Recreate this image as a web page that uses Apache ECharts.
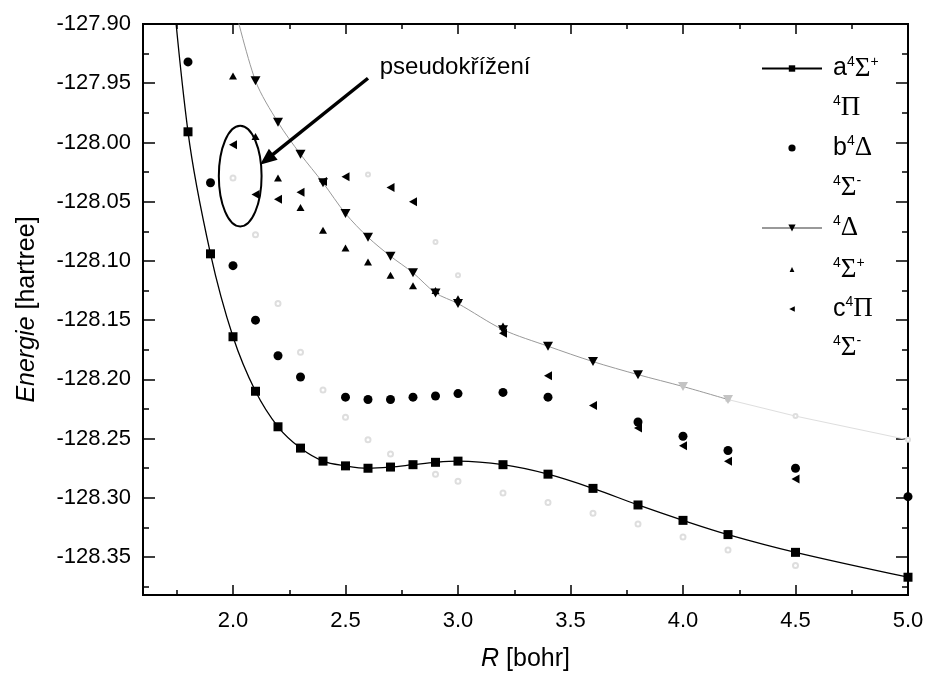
<!DOCTYPE html>
<html><head><meta charset="utf-8">
<script src="https://cdn.jsdelivr.net/npm/echarts@6/dist/echarts.min.js"></script>
<style>html,body{margin:0;padding:0;background:#fff}#c{width:927px;height:677px}</style>
</head><body><div id="c"></div>
<script>
// ---- data (R in bohr, E in hartree) ----
const R_A = [1.7, 1.8, 1.9, 2.0, 2.1, 2.2, 2.3, 2.4, 2.5, 2.6, 2.7, 2.8, 2.9, 3.0, 3.2, 3.4, 3.6, 3.8, 4.0, 4.2, 4.5, 5.0];
const E_A = [-127.80, -127.991, -128.094, -128.164, -128.210, -128.240, -128.258, -128.269, -128.273, -128.275, -128.274, -128.272, -128.270, -128.269, -128.272, -128.280, -128.292, -128.306, -128.319, -128.331, -128.346, -128.367];

const R_B = [1.8, 1.9, 2.0, 2.1, 2.2, 2.3, 2.5, 2.6, 2.7, 2.8, 2.9, 3.0, 3.2, 3.4, 3.8, 4.0, 4.2, 4.5, 5.0];
const E_B = [-127.932, -128.034, -128.104, -128.150, -128.180, -128.198, -128.215, -128.217, -128.217, -128.215, -128.214, -128.212, -128.211, -128.215, -128.236, -128.248, -128.260, -128.275, -128.299];

const R_D = [2.0, 2.1, 2.2, 2.3, 2.4, 2.5, 2.6, 2.7, 2.8, 2.9, 3.0, 3.2, 3.4, 3.6, 3.8, 4.0, 4.2];
const E_D = [-127.88, -127.948, -127.983, -128.010, -128.034, -128.060, -128.080, -128.096, -128.110, -128.127, -128.136, -128.158, -128.172, -128.185, -128.196, -128.206, -128.217];

const R_SP = [2.0, 2.1, 2.2, 2.3, 2.4, 2.5, 2.6, 2.7, 2.8, 2.9, 3.0, 3.2];
const E_SP = [-127.944, -127.995, -128.030, -128.055, -128.074, -128.089, -128.101, -128.112, -128.121, -128.125, -128.132, -128.155];

const R_C = [2.0, 2.1, 2.2, 2.3, 2.4, 2.5, 2.7, 2.8, 3.2, 3.4, 3.6, 3.8, 4.0, 4.2, 4.5];
const E_C = [-128.002, -128.044, -128.048, -128.042, -128.033, -128.029, -128.038, -128.050, -128.161, -128.197, -128.222, -128.241, -128.256, -128.269, -128.284];

const R_P = [2.0, 2.1, 2.2, 2.3, 2.4, 2.5, 2.6, 2.7, 2.8, 2.9, 3.0, 3.2, 3.4, 3.6, 3.8, 4.0, 4.2, 4.5];
const E_P = [-128.030, -128.078, -128.136, -128.177, -128.209, -128.232, -128.251, -128.263, -128.273, -128.280, -128.286, -128.296, -128.304, -128.313, -128.322, -128.333, -128.344, -128.357];

const R_SM1 = [2.6, 2.9, 3.0];
const E_SM1 = [-128.027, -128.084, -128.112];

const R_SM2 = [4.2, 4.5, 5.0];
const E_SM2 = [-128.217, -128.231, -128.251];

const X_MAJOR = [2.0, 2.5, 3.0, 3.5, 4.0, 4.5, 5.0];
const X_MINOR = [1.75, 2.25, 2.75, 3.25, 3.75, 4.25, 4.75];
const Y_MAJOR = [-127.90, -127.95, -128.00, -128.05, -128.10, -128.15, -128.20, -128.25, -128.30, -128.35];
const Y_MINOR = [-127.925, -127.975, -128.025, -128.075, -128.125, -128.175, -128.225, -128.275, -128.325, -128.375];

const LEGEND_LABELS = {
  aS: 'a{s|4}{g|Σ}{s|+}',
  P: '{s|4}{g|Π}',
  bD: 'b{s|4}{g|Δ}',
  Sm1: '{s|4}{g|Σ}{s|-}',
  D: '{s|4}{g|Δ}',
  Sp: '{s|4}{g|Σ}{s|+}',
  cP: 'c{s|4}{g|Π}',
  Sm2: '{s|4}{g|Σ}{s|-}'
};
const ANNOT_TEXT = 'pseudokřížení';

// ---- chart ----
const F = '"Liberation Sans", Arial, sans-serif';
const FS = '"Liberation Serif", "Times New Roman", serif';
const BLACK = '#000', FAINT = '#dedede';
const D_FAINT_FROM = 4.0;

function pts(R, E) { return R.map((r, i) => [r, E[i]]); }

function xAxis(pos, vals, len, labels) {
  return {
    type: 'value', min: 1.6, max: 5.0, position: pos,
    axisLine: { show: true, onZero: false, lineStyle: { color: BLACK, width: 2 } },
    axisTick: { show: true, inside: true, length: len, customValues: vals, lineStyle: { color: BLACK, width: 1.5 } },
    axisLabel: { show: labels, customValues: vals, formatter: v => v.toFixed(1), fontFamily: F, fontSize: 22, color: BLACK, margin: 15 },
    splitLine: { show: false }
  };
}
function yAxis(pos, vals, len, labels) {
  return {
    type: 'value', min: -128.382, max: -127.90, position: pos,
    axisLine: { show: true, onZero: false, lineStyle: { color: BLACK, width: 2 } },
    axisTick: { show: true, inside: true, length: len, customValues: vals, lineStyle: { color: BLACK, width: 1.5 } },
    axisLabel: { show: labels, customValues: vals, formatter: v => v.toFixed(2), fontFamily: F, fontSize: 22, color: BLACK, margin: 12 },
    splitLine: { show: false }
  };
}

const xAxes = [xAxis('bottom', X_MAJOR, 10, true), xAxis('bottom', X_MINOR, 5, false), xAxis('top', X_MAJOR, 10, false), xAxis('top', X_MINOR, 5, false)];
Object.assign(xAxes[0], {
  name: '{i|R} [bohr]', nameLocation: 'middle', nameGap: 52,
  nameTextStyle: { fontFamily: F, fontSize: 25, color: BLACK, rich: { i: { fontFamily: F, fontSize: 25, fontStyle: 'italic', color: BLACK } } }
});
const yAxes = [yAxis('left', Y_MAJOR, 12, true), yAxis('left', Y_MINOR, 6, false), yAxis('right', Y_MAJOR, 12, false), yAxis('right', Y_MINOR, 6, false)];
Object.assign(yAxes[0], {
  name: '{i|Energie} [hartree]', nameLocation: 'middle', nameGap: 103,
  nameTextStyle: { fontFamily: F, fontSize: 25, color: BLACK, rich: { i: { fontFamily: F, fontSize: 25, fontStyle: 'italic', color: BLACK } } }
});

const base = { type: 'line', showAllSymbol: true, xAxisIndex: 0, yAxisIndex: 0, animation: false, emphasis: { disabled: true } };
const noLine = { opacity: 0 };
const series = [
  Object.assign({}, base, { name: 'P', data: pts(R_P, E_P), symbol: 'emptyCircle', symbolSize: 5, itemStyle: { color: FAINT }, lineStyle: noLine, z: 1 }),
  Object.assign({}, base, { name: 'Sm1', data: pts(R_SM1, E_SM1), symbol: 'emptyCircle', symbolSize: 4, itemStyle: { color: FAINT }, lineStyle: noLine, z: 1 }),
  Object.assign({}, base, { name: 'Sm2', data: pts(R_SM2, E_SM2), symbol: 'emptyCircle', symbolSize: 4, itemStyle: { color: FAINT }, lineStyle: { color: FAINT, width: 1 }, z: 1 }),
  Object.assign({}, base, { name: 'aS', data: pts(R_A, E_A), symbol: 'rect', symbolSize: 9, smooth: 0.35, itemStyle: { color: BLACK }, lineStyle: { color: BLACK, width: 1.3 }, z: 5 }),
  Object.assign({}, base, { name: 'bD', data: pts(R_B, E_B), symbol: 'circle', symbolSize: 9, itemStyle: { color: BLACK }, lineStyle: noLine, z: 4 }),
  Object.assign({}, base, { name: 'D', data: pts(R_D, E_D).map(p => p[0] >= D_FAINT_FROM ? { value: p, itemStyle: { color: '#c4c4c4' } } : p), symbol: 'triangle', symbolRotate: 180, symbolSize: [10, 9], smooth: 0.3, itemStyle: { color: BLACK }, lineStyle: { color: '#999', width: 1 }, z: 4 }),
  Object.assign({}, base, { name: 'Sp', data: pts(R_SP, E_SP), symbol: 'triangle', symbolSize: [8, 7], itemStyle: { color: BLACK }, lineStyle: noLine, z: 4 }),
  Object.assign({}, base, { name: 'cP', data: pts(R_C, E_C), symbol: 'triangle', symbolRotate: 90, symbolSize: [9, 8], itemStyle: { color: BLACK }, lineStyle: noLine, z: 4 })
];

// legend rows: name, icon height, row centre (px), visible icon?
const LEG_ROWS = [['aS', 8, 59, 'line'], ['P', 8, 98, 'none'], ['bD', 9, 139, 'sym'], ['Sm1', 8, 178, 'none'],
                  ['D', 9, 219, 'line'], ['Sp', 6, 259, 'sym'], ['cP', 7, 299, 'sym'], ['Sm2', 8, 338, 'none']];
const legends = LEG_ROWS.map(([nm, h, cy, kind]) => {
  const item = { name: nm };
  if (kind === 'none') { item.itemStyle = { opacity: 0 }; item.lineStyle = { opacity: 0 }; }
  if (kind === 'sym') { item.lineStyle = { opacity: 0 }; }
  return {
    data: [item], selectedMode: false, orient: 'vertical', left: 761, top: cy - h / 2,
    itemWidth: 60, itemHeight: h, padding: 0,
    formatter: () => LEGEND_LABELS[nm],
    textStyle: {
      fontFamily: F, fontSize: 25, color: BLACK, padding: [0, 0, 0, 6],
      rich: {
        s: { fontFamily: F, fontSize: 14, color: BLACK, verticalAlign: 'top', lineHeight: 12 },
        g: { fontFamily: FS, fontSize: 27, color: BLACK }
      }
    }
  };
});

const chart = echarts.init(document.getElementById('c'), null, { renderer: 'canvas' });
chart.setOption({
  backgroundColor: '#fff',
  animation: false,
  grid: { left: 143, right: 19, top: 24, bottom: 82, containLabel: false },
  xAxis: xAxes, yAxis: yAxes, legend: legends, series: series
});

// ---- annotation anchored in data coordinates ----
const ANN = { text: [2.652, -127.9363], from: [2.60, -127.9458], to: [2.12, -128.0189], ell: [2.032, -128.0284], rx: 0.095, ry: 0.0425 };
const px = p => chart.convertToPixel({ xAxisIndex: 0, yAxisIndex: 0 }, p);
const c = px(ANN.ell);
const cr = px([ANN.ell[0] + ANN.rx, ANN.ell[1] - ANN.ry]);
const a0 = px(ANN.from), a1 = px(ANN.to);
const dx = a1[0] - a0[0], dy = a1[1] - a0[1], L = Math.hypot(dx, dy), ux = dx / L, uy = dy / L;
const HL = 17, HW = 7;
const bx = a1[0] - ux * HL, by = a1[1] - uy * HL;
const tp = px(ANN.text);
chart.setOption({
  graphic: [
    { type: 'ellipse', shape: { cx: c[0], cy: c[1], rx: cr[0] - c[0], ry: cr[1] - c[1] }, style: { fill: 'none', stroke: BLACK, lineWidth: 2 }, z: 10 },
    { type: 'line', shape: { x1: a0[0], y1: a0[1], x2: bx + ux * 2, y2: by + uy * 2 }, style: { stroke: BLACK, lineWidth: 3.5 }, z: 10 },
    { type: 'polygon', shape: { points: [[a1[0], a1[1]], [bx - uy * HW, by + ux * HW], [bx + uy * HW, by - ux * HW]] }, style: { fill: BLACK }, z: 10 },
    { type: 'text', x: tp[0], y: tp[1], style: { text: ANNOT_TEXT, fontFamily: F, fontSize: 24, fill: BLACK, align: 'left', verticalAlign: 'middle' }, z: 10 }
  ]
});
</script></body></html>
